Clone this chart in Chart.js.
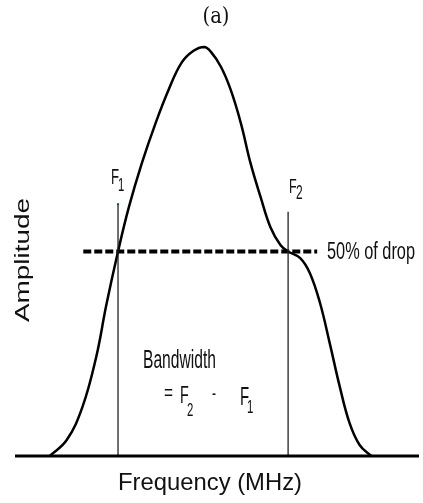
<!DOCTYPE html>
<html>
<head>
<meta charset="utf-8">
<script src="https://cdn.jsdelivr.net/npm/chart.js@4.4.1/dist/chart.umd.min.js"></script>
<style>
  html, body { margin: 0; padding: 0; background: #fff; }
  #wrap { width: 423px; height: 503px; }
</style>
</head>
<body>
<div id="wrap"><canvas id="myChart"></canvas></div>
<script>
// frequency (arbitrary units, 0-100) and amplitude (% of peak)
const freq = [8.6, 12.8, 16.7, 20.1, 22.6, 25.5, 28.2, 31.4, 34.8, 38.0, 41.2, 44.1, 46.8,
              48.5, 51.0, 53.4, 55.9, 58.3, 60.8, 63.2, 65.7, 67.6, 70.6, 73.0, 75.5, 77.9,
              80.4, 82.8, 85.3, 88.2];
const amplitude = [0, 3.9, 12.0, 24.2, 36.9, 50, 60.9, 71.6, 81.4, 89.5, 96.1, 99.0, 100,
                   98.8, 95.1, 89.5, 81.4, 71.6, 63.3, 56.0, 51.6, 50, 48.4, 44.7, 37.4, 27.6,
                   16.9, 8.1, 2.7, 0];

const f1 = 25.5;
const f2 = 67.6;
const f1Top = 61.6;
const f2Top = 59.7;
const halfLevel = 50;
const halfLine = [16.9, 74.8];
const axisRange = [0, 100];

const curvePts = freq.map((f, i) => ({ x: f, y: amplitude[i] }));

// draw text squeezed/stretched to a given width (the sketch uses a narrow font)
function fitText(c, text, x, y, font, width, align) {
  c.save();
  c.font = font;
  const w = c.measureText(text).width;
  const sx = width / w;
  c.translate(x, y);
  c.scale(sx, 1);
  c.textAlign = align || 'left';
  c.textBaseline = 'alphabetic';
  c.fillText(text, 0, 0);
  c.restore();
}

function narrow(c, text, x, y, size, sx) {
  c.save();
  c.font = size + 'px "Liberation Sans", Arial, sans-serif';
  c.translate(x, y);
  c.scale(sx || 0.6, 1);
  c.textBaseline = 'alphabetic';
  c.fillText(text, 0, 0);
  c.restore();
}

const labels = {
  id: 'labels',
  afterDraw(chart) {
    const c = chart.ctx;
    const xs = chart.scales.x;
    const sans = '"Liberation Sans", Arial, sans-serif';
    c.save();
    c.fillStyle = '#111';

    // panel tag
    fitText(c, '(a)', 216, 23, '22px "DejaVu Serif", serif', 27, 'center');

    // marker labels
    const p1 = xs.getPixelForValue(f1);
    const p2 = xs.getPixelForValue(f2);
    narrow(c, 'F', p1 - 7, 184, 22);
    narrow(c, '1', p1, 191, 19);
    narrow(c, 'F', p2 + 1, 193, 21);
    narrow(c, '2', p2 + 8, 199, 20);

    fitText(c, '50% of drop', 327, 259, '23px ' + sans, 88);

    fitText(c, 'Bandwidth', 143, 368, '25px ' + sans, 73);
    narrow(c, '=', 164, 400, 22, 0.7);
    narrow(c, 'F', 180, 403, 24);
    narrow(c, '2', 187, 416, 19);
    narrow(c, '-', 212, 400, 20);
    narrow(c, 'F', 240, 405, 25);
    narrow(c, '1', 247, 413, 19);

    // axis titles
    fitText(c, 'Frequency (MHz)', 210, 490, '24px ' + sans, 184, 'center');
    c.save();
    c.translate(29, 260);
    c.rotate(-Math.PI / 2);
    fitText(c, 'Amplitude', 0, 0, '21px ' + sans, 124, 'center');
    c.restore();

    c.restore();
  }
};

const ctx = document.getElementById('myChart');

new Chart(ctx, {
  type: 'scatter',
  data: {
    datasets: [
      {
        label: 'baseline',
        data: [{ x: axisRange[0], y: 0 }, { x: axisRange[1], y: 0 }],
        showLine: true,
        borderColor: '#000',
        borderWidth: 3,
        pointRadius: 0,
        clip: false
      },
      {
        label: 'F1',
        data: [{ x: f1, y: 0 }, { x: f1, y: f1Top }],
        showLine: true,
        borderColor: '#222',
        borderWidth: 1.3,
        pointRadius: 0,
        clip: false
      },
      {
        label: 'F2',
        data: [{ x: f2, y: 0 }, { x: f2, y: f2Top }],
        showLine: true,
        borderColor: '#222',
        borderWidth: 1.3,
        pointRadius: 0,
        clip: false
      },
      {
        label: '50%',
        data: [{ x: halfLine[0], y: halfLevel }, { x: halfLine[1], y: halfLevel }],
        showLine: true,
        borderColor: '#000',
        borderWidth: 4,
        borderDash: [8, 3],
        pointRadius: 0,
        clip: false
      },
      {
        label: 'response',
        data: curvePts,
        showLine: true,
        borderColor: '#000',
        borderWidth: 2.5,
        tension: 0.4,
        pointRadius: 0,
        clip: false
      },
      {
        label: 'marks',
        data: [{ x: f2, y: halfLevel }, { x: f2, y: 0 }, { x: f1, y: f1Top }],
        showLine: false,
        pointStyle: 'rect',
        pointRadius: 1.5,
        borderWidth: 0,
        backgroundColor: '#1a9a3a',
        clip: false
      }
    ]
  },
  options: {
    responsive: true,
    maintainAspectRatio: false,
    animation: false,
    layout: { padding: { left: 15, right: 0, top: 47, bottom: 47 } },
    plugins: {
      legend: { display: false },
      tooltip: { enabled: false }
    },
    scales: {
      x: { type: 'linear', min: axisRange[0], max: axisRange[1], display: false },
      y: { type: 'linear', min: 0, max: 100, display: false }
    }
  },
  plugins: [labels]
});
</script>
</body>
</html>
